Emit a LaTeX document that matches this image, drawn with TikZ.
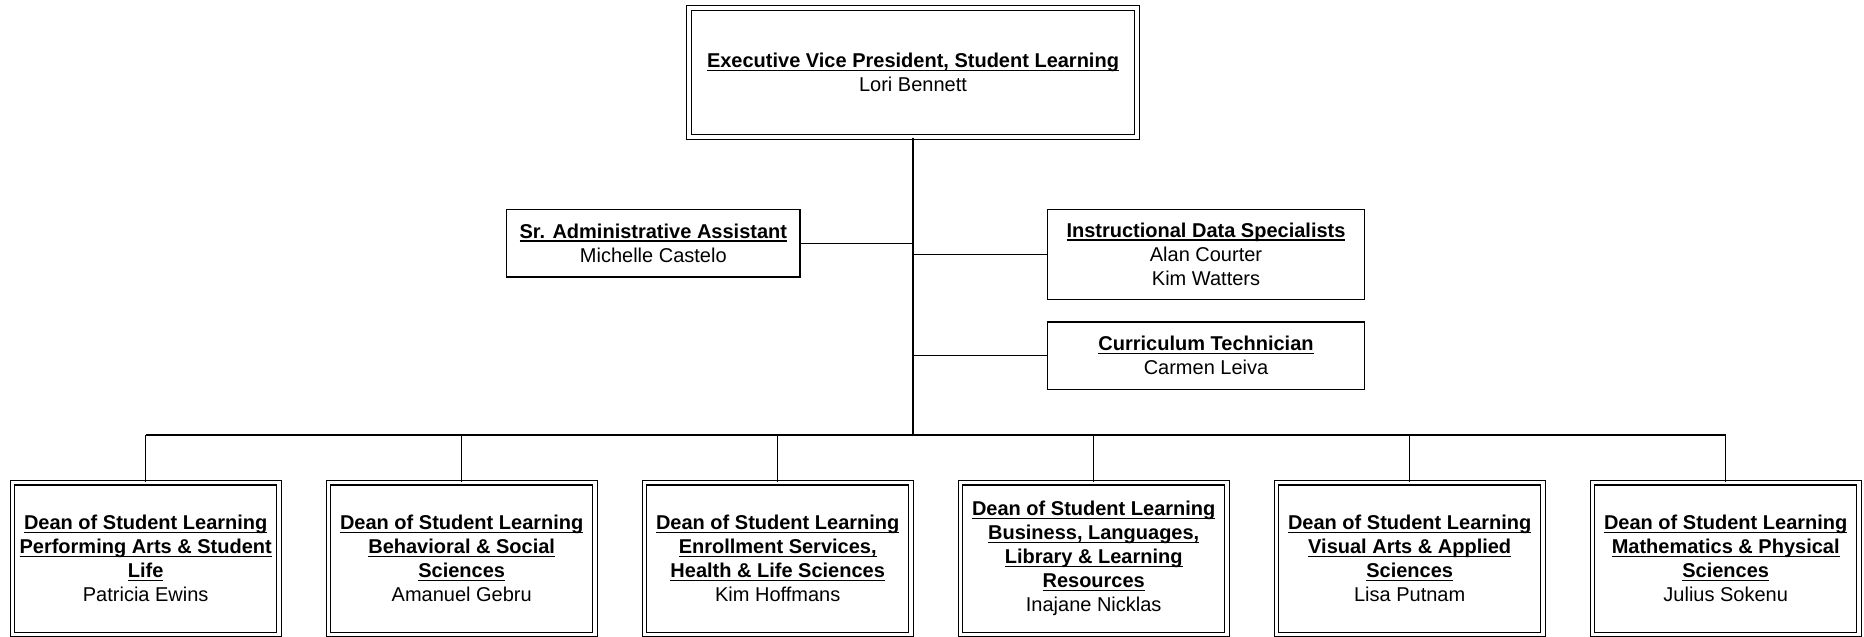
\documentclass[tikz,border=0pt]{standalone}
\usepackage{fontspec}
\setmainfont{Liberation Sans}
\usetikzlibrary{positioning,calc}
% bold heading with a close underline
\newcommand{\hdg}[1]{\setbox0=\hbox{\bfseries #1}\rlap{\rule[-2.4pt]{\wd0}{0.9pt}}\box0}

\begin{document}
\begin{tikzpicture}[x=0.75pt, y=-0.75pt, line width=1pt,
    every node/.style={font=\fontsize{15}{18}\selectfont, align=center, inner sep=0pt},
    staff/.style={draw, line width=1pt},
    dean/.style={draw, line width=0.8pt, double, double distance=2.6pt, minimum width=200pt, minimum height=114pt}]
    \useasboundingbox (0,0) rectangle (1864,636);

    % Top
    \node[draw, line width=0.8pt, double, double distance=2.6pt, minimum width=336pt, minimum height=97pt] (evp) at (913,72.5)
        {\hdg{Executive Vice President, Student Learning}\\Lori Bennett};
    \coordinate (hub) at (913,435);

    % Staff
    \node[staff, minimum width=220pt, minimum height=50.5pt] (admin) at (653.3,243.2)
        {\hdg{Sr. Administrative Assistant}\\Michelle Castelo};
    \node[staff, minimum width=237.5pt, minimum height=67.5pt] (data) at (1206,254.2)
        {\hdg{Instructional Data Specialists}\\Alan Courter\\Kim Watters};
    \node[staff, minimum width=237.5pt, minimum height=50.5pt] (tech) at (1206,355.7)
        {\hdg{Curriculum Technician}\\Carmen Leiva};

    % Deans
    \node[dean] (dean1) at (145.7,558.75)
        {\hdg{Dean of Student Learning}\\\hdg{Performing Arts \& Student}\\\hdg{Life}\\Patricia Ewins};
    \node[dean] (dean2) at (461.7,558.75)
        {\hdg{Dean of Student Learning}\\\hdg{Behavioral \& Social}\\\hdg{Sciences}\\Amanuel Gebru};
    \node[dean] (dean3) at (777.7,558.75)
        {\hdg{Dean of Student Learning}\\\hdg{Enrollment Services,}\\\hdg{Health \& Life Sciences}\\Kim Hoffmans};
    \node[dean] (dean4) at (1093.7,558.75)
        {\hdg{Dean of Student Learning}\\\hdg{Business, Languages,}\\\hdg{Library \& Learning}\\\hdg{Resources}\\Inajane Nicklas};
    \node[dean] (dean5) at (1409.7,558.75)
        {\hdg{Dean of Student Learning}\\\hdg{Visual Arts \& Applied}\\\hdg{Sciences}\\Lisa Putnam};
    \node[dean] (dean6) at (1725.7,558.75)
        {\hdg{Dean of Student Learning}\\\hdg{Mathematics \& Physical}\\\hdg{Sciences}\\Julius Sokenu};

    % Lines
    \draw (evp.south) -- (hub);
    \draw (admin.east) -- (admin.east -| hub);
    \draw (data.west) -- (data.west -| hub);
    \draw (tech.west) -- (tech.west -| hub);
    \draw (dean1.north |- hub) -- (dean6.north |- hub);
    \draw (dean1.north) -- (dean1.north |- hub);
    \draw (dean2.north) -- (dean2.north |- hub);
    \draw (dean3.north) -- (dean3.north |- hub);
    \draw (dean4.north) -- (dean4.north |- hub);
    \draw (dean5.north) -- (dean5.north |- hub);
    \draw (dean6.north) -- (dean6.north |- hub);
\end{tikzpicture}
\end{document}
